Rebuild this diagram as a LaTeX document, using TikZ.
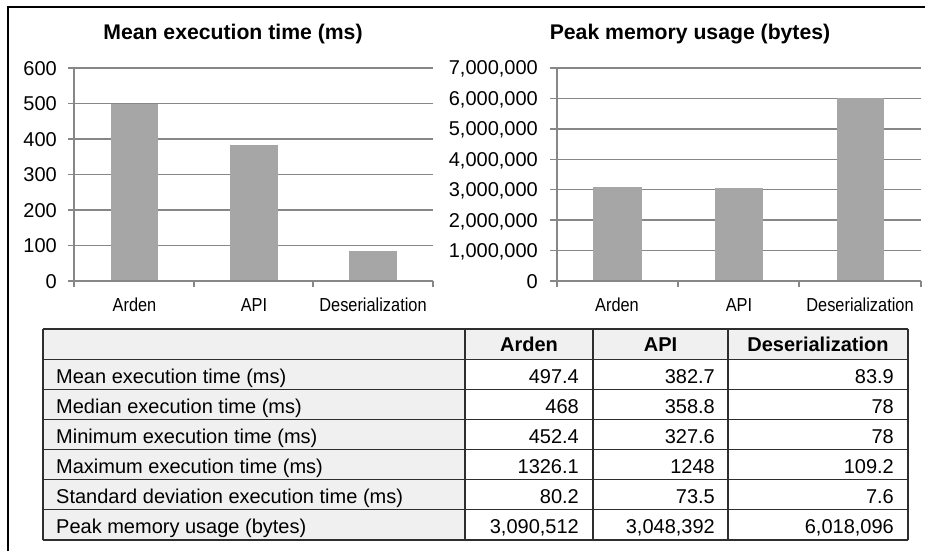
\documentclass[tikz,border=0pt]{standalone}
\usepackage{fontspec}
\setmainfont{Liberation Sans}
\definecolor{gridc}{HTML}{878787}
\definecolor{barc}{HTML}{A6A6A6}
\definecolor{cellc}{HTML}{F0F0F0}
\definecolor{rulec}{HTML}{2E2E2E}
\newcommand\condtext[1]{\scalebox{0.87}[1]{#1}}
\begin{document}
\begin{tikzpicture}[x=1pt,y=-1pt,
  gridline/.style={draw=gridc,line width=1.4pt},
  barbox/.style={fill=barc,draw=none},
  ylab/.style={anchor=base east,inner sep=0pt,font=\fontsize{20}{22}\selectfont},
  catlab/.style={anchor=base,inner sep=0pt,font=\fontsize{18.8}{22}\selectfont},
  ttl/.style={anchor=base,inner sep=0pt,font=\bfseries\fontsize{21.2}{24}\selectfont},
  tleft/.style={anchor=base west,inner sep=0pt,font=\fontsize{20}{23}\selectfont},
  tright/.style={anchor=base east,inner sep=0pt,font=\fontsize{20}{23}\selectfont},
  thead/.style={anchor=base,inner sep=0pt,font=\bfseries\fontsize{20}{23}\selectfont},
  tline/.style={draw=rulec,line width=1.2pt},
  frame/.style={draw=black,line width=1.8pt}]
\useasboundingbox (0,0) rectangle (925,551);
% outer frame (top and left edges)
\coordinate (fbl) at (8,551);
\coordinate (ftl) at (8,7);
\coordinate (ftr) at (925,7);
\draw[frame] (fbl) -- (ftl) -- (ftr);

% ---------- left chart ----------
\node[ttl] (t1) at (233,39.5) {Mean execution time (ms)};
\foreach \v/\t in {1/100,2/200,3/300,4/400,5/500,6/600}{
  \draw[gridline] (68,{281-\v*35.5}) -- (433,{281-\v*35.5});
  \node[ylab] (la\v) at (57,{288-\v*35.5}) {\t};
}
\node[ylab] (la0) at (57,288) {0};
\fill[barc] (111,281) rectangle (158,104.4);
\fill[barc] (230,281) rectangle (278,145.1);
\fill[barc] (349,281) rectangle (397,251.2);
\draw[gridline] (68,281) -- (433,281);
\draw[gridline] (74,68) -- (74,287);
\foreach \x in {194,313,433}{\draw[gridline] (\x,281) -- (\x,287);}
\node[catlab] (ca1) at (134.5,311.5) {\condtext{Arden}};
\node[catlab] (ca2) at (254,311.5) {\condtext{API}};
\node[catlab] (ca3) at (373,311.5) {\condtext{Deserialization}};

% ---------- right chart ----------
\node[ttl] (t2) at (690,39.5) {Peak memory usage (bytes)};
\foreach \v/\t in {1/{1,000,000},2/{2,000,000},3/{3,000,000},4/{4,000,000},5/{5,000,000},6/{6,000,000},7/{7,000,000}}{
  \draw[gridline] (550,{281-\v*30.43}) -- (921,{281-\v*30.43});
  \node[ylab] (lb\v) at (538,{288-\v*30.43}) {\t};
}
\node[ylab] (lb0) at (538,288) {0};
\fill[barc] (593,281) rectangle (642,187.0);
\fill[barc] (715,281) rectangle (763,188.2);
\fill[barc] (837,281) rectangle (884,97.9);
\draw[gridline] (550,281) -- (921,281);
\draw[gridline] (557,68) -- (557,287);
\foreach \x in {678,799,921}{\draw[gridline] (\x,281) -- (\x,287);}
\node[catlab] (cb1) at (617,311.5) {\condtext{Arden}};
\node[catlab] (cb2) at (739,311.5) {\condtext{API}};
\node[catlab] (cb3) at (860,311.5) {\condtext{Deserialization}};

% ---------- table ----------
\fill[cellc] (43,329) rectangle (908,359.1);
\fill[cellc] (43,329) rectangle (465,540);
\foreach \k in {0,...,7}{
  \draw[tline] (43,{329+\k*30.14}) -- (908,{329+\k*30.14});
}
\foreach \x in {43,465,593,728,908}{
  \draw[tline] (\x,329) -- (\x,540);
}
\node[thead] (h1) at (529,351.5) {Arden};
\node[thead] (h2) at (660.5,351.5) {API};
\node[thead] (h3) at (818,351.5) {Deserialization};
\foreach \k/\lab/\a/\b/\c in {
  1/{Mean execution time (ms)}/497.4/382.7/83.9,
  2/{Median execution time (ms)}/468/358.8/78,
  3/{Minimum execution time (ms)}/452.4/327.6/78,
  4/{Maximum execution time (ms)}/1326.1/1248/109.2,
  5/{Standard deviation execution time (ms)}/80.2/73.5/7.6,
  6/{Peak memory usage (bytes)}/{3,090,512}/{3,048,392}/{6,018,096}}{
  \node[tleft] (r\k) at (56,{329+\k*30.14+24}) {\lab};
  \node[tright] (r\k a) at (579,{329+\k*30.14+24}) {\a};
  \node[tright] (r\k b) at (715,{329+\k*30.14+24}) {\b};
  \node[tright] (r\k c) at (894,{329+\k*30.14+24}) {\c};
}
\end{tikzpicture}
\end{document}
